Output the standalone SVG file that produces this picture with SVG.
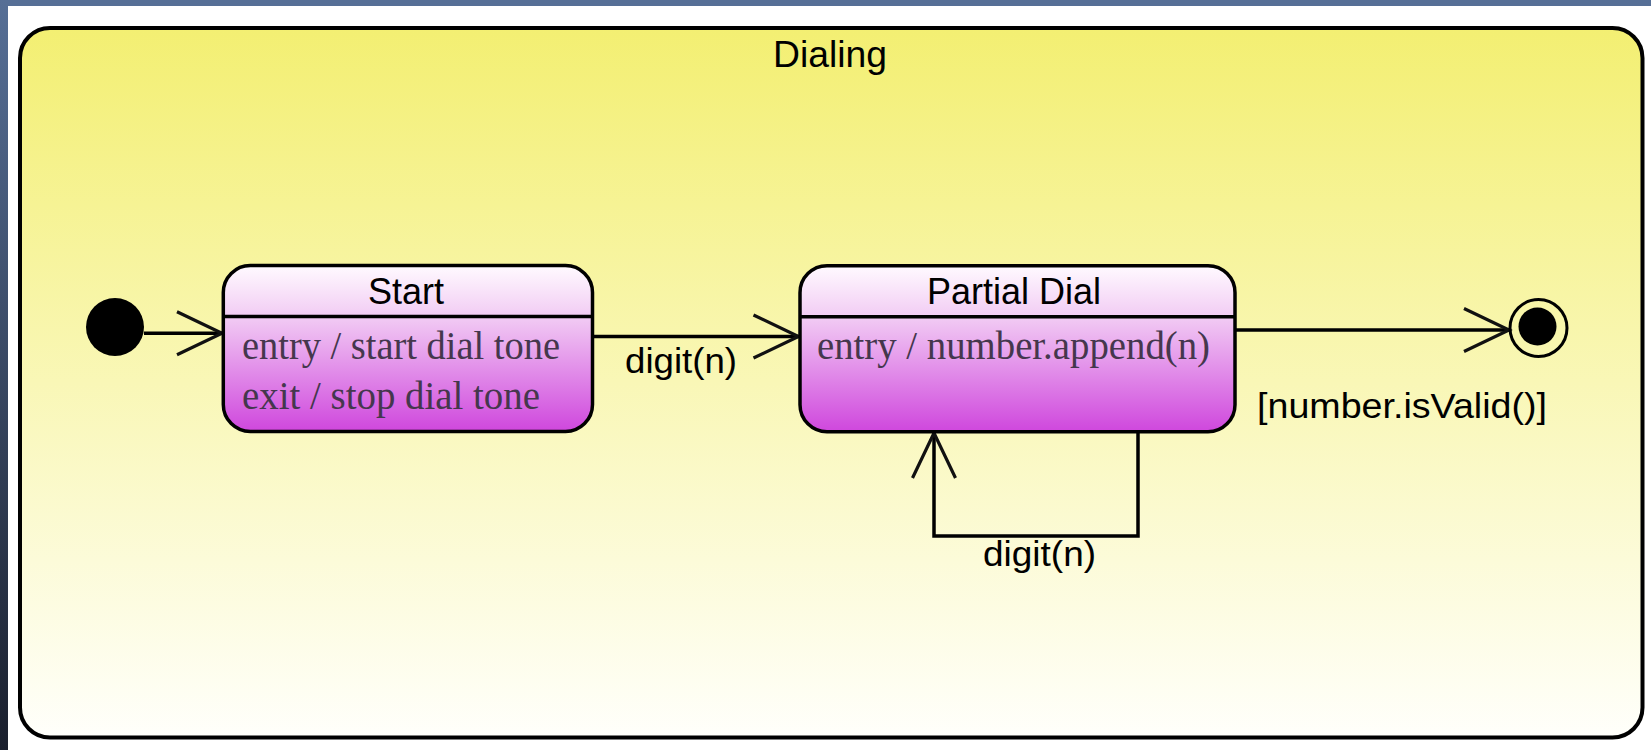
<svg xmlns="http://www.w3.org/2000/svg" width="1651" height="750" viewBox="0 0 1651 750">
  <defs>
    <linearGradient id="sideBar" x1="0" y1="0" x2="0" y2="1">
      <stop offset="0" stop-color="#566f96"/>
      <stop offset="1" stop-color="#1a1f2d"/>
    </linearGradient>
    <linearGradient id="compositeFill" x1="0" y1="0" x2="0" y2="1">
      <stop offset="0" stop-color="#f3ef72"/>
      <stop offset="1" stop-color="#fffffb"/>
    </linearGradient>
    <linearGradient id="stateFill" x1="0" y1="0" x2="0" y2="1">
      <stop offset="0" stop-color="#fffaff"/>
      <stop offset="0.3" stop-color="#f2cdf4"/>
      <stop offset="1" stop-color="#cf47dd"/>
    </linearGradient>
    <marker id="openArrow" viewBox="-50 -26 54 52" refX="0" refY="0" markerWidth="54" markerHeight="52" markerUnits="userSpaceOnUse" orient="auto" overflow="visible">
      <path d="M-45,-21.5 L0,0 L-45,21.5" fill="none" stroke="#111" stroke-width="3.2"/>
    </marker>
    <style>
      .frame { fill: url(#compositeFill); stroke: #000; stroke-width: 4; }
      .state { fill: url(#stateFill); stroke: #000; stroke-width: 3.5; }
      .divider { stroke: #000; stroke-width: 3.5; }
      .title { font-family: "Liberation Sans", Arial, sans-serif; font-size: 36px; fill: #000; text-anchor: middle; }
      .action { font-family: "Liberation Serif", "Times New Roman", serif; font-size: 40px; fill: #45374d; }
      .label { font-family: "Liberation Sans", Arial, sans-serif; font-size: 35px; fill: #000; }
      .edge { fill: none; stroke: #000; stroke-width: 3.5; marker-end: url(#openArrow); }
    </style>
  </defs>

  <!-- window chrome around the canvas -->
  <rect x="0" y="0" width="1651" height="750" fill="#ffffff"/>
  <rect x="0" y="0" width="1651" height="6" fill="#566f96"/>
  <rect x="0" y="0" width="8" height="750" fill="url(#sideBar)"/>

  <!-- composite state: Dialing -->
  <g id="dialing">
    <rect class="frame" x="20" y="28" width="1622.5" height="709.5" rx="30" ry="30"/>
    <text x="830" y="66.5" class="title" textLength="114" lengthAdjust="spacingAndGlyphs">Dialing</text>
  </g>

  <!-- transitions -->
  <g id="connectors">
    <path class="edge" d="M144,333.3 H222"/>
    <path class="edge" d="M592.5,336.5 H798.5"/>
    <path class="edge" d="M1138,431.5 V536 H934 V433"/>
    <path class="edge" d="M1235,330 H1509"/>
    <text x="625" y="373.3" class="label" textLength="112" lengthAdjust="spacingAndGlyphs">digit(n)</text>
    <text x="983" y="566" class="label" textLength="113" lengthAdjust="spacingAndGlyphs">digit(n)</text>
    <text x="1257" y="418" class="label" textLength="290" lengthAdjust="spacingAndGlyphs">[number.isValid()]</text>
  </g>

  <!-- initial pseudo-state -->
  <g id="initial">
    <circle cx="115" cy="327" r="29" fill="#000"/>
  </g>

  <!-- state: Start -->
  <g id="start">
    <rect class="state" x="223.3" y="265.5" width="369.2" height="166" rx="27" ry="27"/>
    <line class="divider" x1="223.3" y1="316.5" x2="592.5" y2="316.5"/>
    <text x="406" y="304" class="title">Start</text>
    <text x="242" y="359" class="action" textLength="318" lengthAdjust="spacingAndGlyphs">entry / start dial tone</text>
    <text x="242" y="409" class="action" textLength="298" lengthAdjust="spacingAndGlyphs">exit / stop dial tone</text>
  </g>

  <!-- state: Partial Dial -->
  <g id="partial-dial">
    <rect class="state" x="800" y="265.7" width="435" height="166" rx="27" ry="27"/>
    <line class="divider" x1="800" y1="316.7" x2="1235" y2="316.7"/>
    <text x="1014" y="304" class="title">Partial Dial</text>
    <text x="817" y="359" class="action" textLength="393" lengthAdjust="spacingAndGlyphs">entry / number.append(n)</text>
  </g>

  <!-- final state -->
  <g id="final">
    <circle cx="1538.5" cy="328" r="28.5" fill="none" stroke="#000" stroke-width="3"/>
    <circle cx="1537.5" cy="326.5" r="19" fill="#000"/>
  </g>
</svg>
